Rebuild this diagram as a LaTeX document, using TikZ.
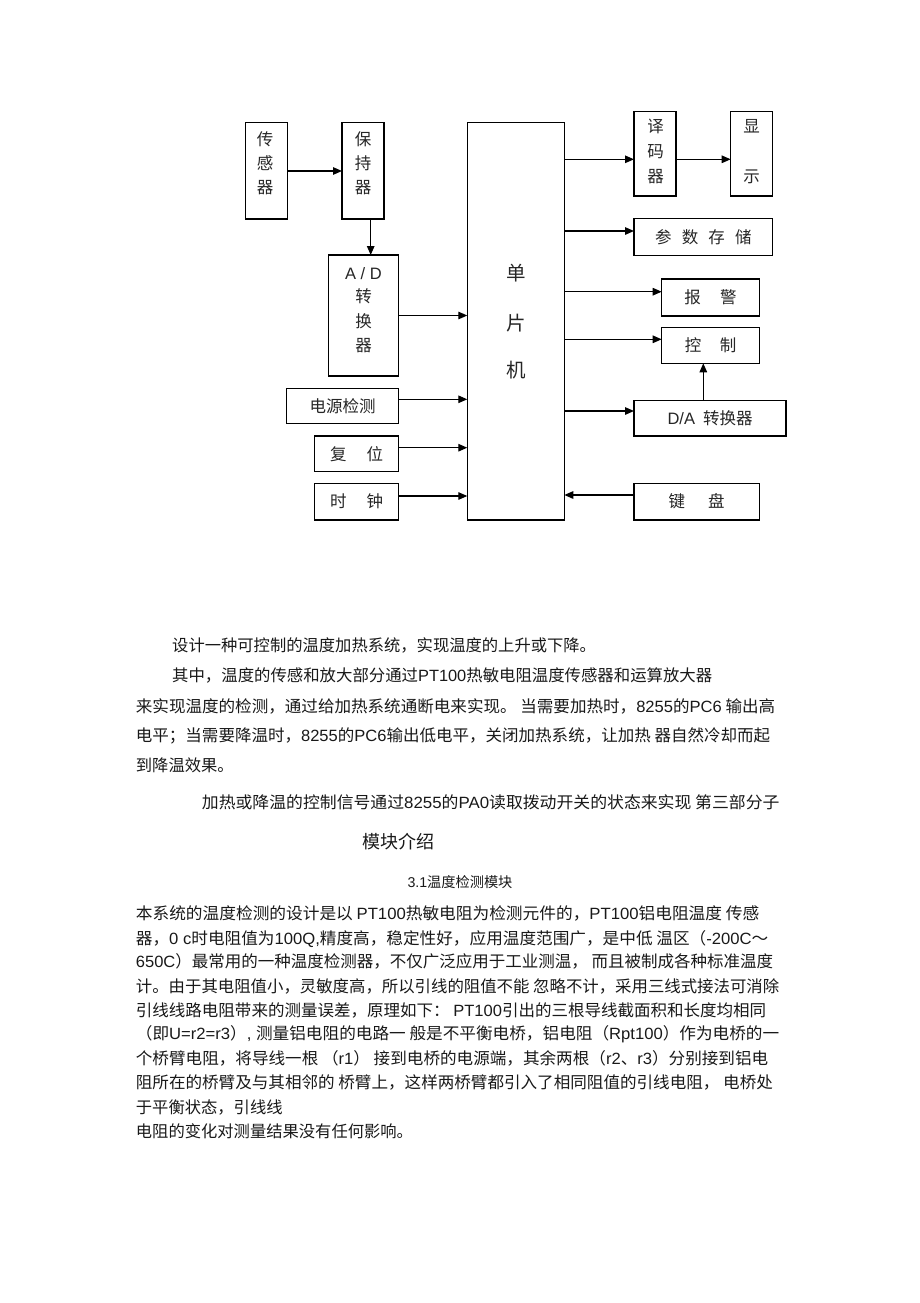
\documentclass[tikz,border=0pt]{standalone}
\usepackage{graphicx}
\usepackage{fontspec}
\setmainfont{Noto Sans CJK SC}
\newfontfamily\latf{Liberation Sans}
\newcommand\ltn[1]{{\latf #1}}
\usetikzlibrary{arrows.meta,calc}
\tikzset{
  box/.style={draw=black, line width=1.2pt, inner sep=0pt, outer sep=0pt,
    text=black!85, font=\fontsize{16.5}{20}\selectfont},
  vtxt/.style={anchor=base, inner sep=0pt, text=black!85, font=\fontsize{16.5}{20}\selectfont},
  arr/.style={-{Triangle[length=9pt,width=7.5pt]}, line width=1.3pt},
  para/.style={anchor=base west, inner sep=0pt, text=black!90, font=\fontsize{16.3}{20}\selectfont}
}
\newcommand\jline[5]{\node[para] (#1) at (#2,#3+6) {\resizebox{#4pt}{\height}{#5}};}
\newcommand\nline[4]{\node[para] (#1) at (#2,#3+6) {#4};}
\begin{document}
\begin{tikzpicture}[x=1pt,y=-1pt]
\fill[white] (0,0) rectangle (920,1303);
\useasboundingbox (0,0) rectangle (920,1303);

% ---------- boxes ----------
\node[box, minimum width=41.6pt, minimum height=96.3pt] (sens) at (266.5,170.85) {};
\node[box, minimum width=42pt, minimum height=96.3pt] (hold) at (363,170.85) {};
\node[box, minimum width=69.6pt, minimum height=121pt] (ad) at (363.5,315.5) {};
\node[box, minimum width=97pt, minimum height=397.3pt] (mcu) at (515.8,321.35) {};
\node[box, minimum width=42pt, minimum height=84.3pt] (dec) at (655,153.85) {};
\node[box, minimum width=42pt, minimum height=84.3pt] (disp) at (751.7,153.85) {};
\node[box, minimum width=138.7pt, minimum height=37pt] (store) at (703.35,236.8)
  {参\hspace{10.2pt}数\hspace{10.2pt}存\hspace{10.2pt}储};
\node[box, minimum width=97.6pt, minimum height=37pt] (alarm) at (710.5,297.5)
  {报\hspace{19.5pt}警};
\node[box, minimum width=97.6pt, minimum height=36pt] (ctrl) at (710.5,345.3)
  {控\hspace{18.5pt}制};
\node[box, minimum width=152pt, minimum height=35.7pt] (da) at (710,418.15)
  {\ltn{D/A}\hspace{8pt}转换器};
\node[box, minimum width=125.3pt, minimum height=36.7pt] (kb) at (696.65,501.65)
  {键\hspace{23pt}盘};
\node[box, minimum width=112pt, minimum height=35pt] (pw) at (342.7,405.8)
  {电源检测};
\node[box, minimum width=84.4pt, minimum height=35.7pt] (rst) at (356.5,453.85)
  {复\hspace{20pt}位};
\node[box, minimum width=84.4pt, minimum height=36.7pt] (clk) at (356.5,501.65)
  {时\hspace{20pt}钟};

% ---------- vertical labels ----------
\node[vtxt] (s1) at (265,139.3+6) {传};
\node[vtxt] (s2) at (265,163.3+6) {感};
\node[vtxt] (s3) at (265,187.3+6) {器};
\node[vtxt] (h1) at (363,139.3+6) {保};
\node[vtxt] (h2) at (363,163.3+6) {持};
\node[vtxt] (h3) at (363,187.3+6) {器};
\node[vtxt] (a1) at (363.5,273.3+6) {\ltn{A / D}};
\node[vtxt] (a2) at (363.5,296.7+6) {转};
\node[vtxt] (a3) at (363.5,321.7+6) {换};
\node[vtxt] (a4) at (363.5,345+6) {器};
\node[vtxt, font=\fontsize{19.5}{22}\selectfont] (m1) at (516,273.3+7) {单};
\node[vtxt, font=\fontsize{19.5}{22}\selectfont] (m2) at (516,323.3+7) {片};
\node[vtxt, font=\fontsize{19.5}{22}\selectfont] (m3) at (516,370+7) {机};
\node[vtxt] (d1) at (655.5,126.7+6) {译};
\node[vtxt] (d2) at (655.5,151.7+6) {码};
\node[vtxt] (d3) at (655.5,176+6) {器};
\node[vtxt] (x1) at (751.7,126.7+6) {显};
\node[vtxt] (x2) at (751.7,176+6) {示};

% ---------- connectors ----------
\coordinate (ya) at (0,171);
\coordinate (xb) at (370.7,0);
\coordinate (yp) at (0,399.3);
\coordinate (yr) at (0,447.7);
\coordinate (yc) at (0,496);
\coordinate (yd) at (0,159.3);
\coordinate (ys) at (0,231);
\coordinate (yal) at (0,291.7);
\coordinate (yct) at (0,339.3);
\coordinate (yda) at (0,411);
\coordinate (xdc) at (703.3,0);
\coordinate (yk) at (0,495);

\draw[arr] (sens.east |- ya) -- (hold.west |- ya);
\draw[arr] (hold.south -| xb) -- (ad.north -| xb);
\draw[arr] (ad.east) -- (ad.east -| mcu.west);
\draw[arr] (pw.east |- yp) -- (mcu.west |- yp);
\draw[arr] (rst.east |- yr) -- (mcu.west |- yr);
\draw[arr] (clk.east |- yc) -- (mcu.west |- yc);
\draw[arr] (mcu.east |- yd) -- (dec.west |- yd);
\draw[arr] (dec.east |- yd) -- (disp.west |- yd);
\draw[arr] (mcu.east |- ys) -- (store.west |- ys);
\draw[arr] (mcu.east |- yal) -- (alarm.west |- yal);
\draw[arr] (mcu.east |- yct) -- (ctrl.west |- yct);
\draw[arr] (mcu.east |- yda) -- (da.west |- yda);
\draw[arr] (da.north -| xdc) -- (ctrl.south -| xdc);
\draw[arr] (kb.west |- yk) -- (mcu.east |- yk);

% ---------- text ----------
\nline{t1}{172}{645}{设计一种可控制的温度加热系统，实现温度的上升或下降。}
\jline{t2}{172}{675}{540}{其中，温度的传感和放大部分通过\ltn{PT100}热敏电阻温度传感器和运算放大器}
\jline{t3}{135.7}{706}{639.3}{来实现温度的检测，通过给加热系统通断电来实现。 当需要加热时，\ltn{8255}的\ltn{PC6} 输出高}
\jline{t4}{135.7}{735}{634.3}{电平；当需要降温时，\ltn{8255}的\ltn{PC6}输出低电平，关闭加热系统，让加热 器自然冷却而起}
\nline{t5}{135.7}{765}{到降温效果。}
\jline{t6}{201.7}{802}{577.6}{加热或降温的控制信号通过\ltn{8255}的\ltn{PA0}读取拨动开关的状态来实现 第三部分子}
\node[para, font=\fontsize{18}{20}\selectfont] (t7) at (362.3,841.7+6.8) {模块介绍};
\node[para, font=\fontsize{14.2}{18}\selectfont] (hd) at (407.3,881.7+5.4) {\ltn{3.1}温度检测模块};

\jline{p1}{135.7}{913.3}{623.3}{本系统的温度检测的设计是以 \ltn{PT100}热敏电阻为检测元件的，\ltn{PT100}铝电阻温度 传感}
\jline{p2}{135.7}{938.3}{632.3}{器，\ltn{0 c}时电阻值为\ltn{100Q,}精度高，稳定性好，应用温度范围广，是中低 温区（\ltn{-200C}～}
\jline{p3}{135.7}{961.7}{637.3}{\ltn{650C}）最常用的一种温度检测器，不仅广泛应用于工业测温， 而且被制成各种标准温度}
\jline{p4}{135.7}{986.7}{643.3}{计。由于其电阻值小，灵敏度高，所以引线的阻值不能 忽略不计，采用三线式接法可消除}
\jline{p5}{135.7}{1010}{630.3}{引线线路电阻带来的测量误差，原理如下： \ltn{PT100}引出的三根导线截面积和长度均相同}
\jline{p6}{135.7}{1033.5}{643.3}{（即\ltn{U=r2=r3}）\ltn{, }测量铝电阻的电路一 般是不平衡电桥，铝电阻（\ltn{Rpt100}）作为电桥的一}
\jline{p7}{135.7}{1058.3}{632.3}{个桥臂电阻，将导线一根 （\ltn{r1}） 接到电桥的电源端，其余两根（\ltn{r2}、\ltn{r3}）分别接到铝电}
\jline{p8}{135.7}{1082.7}{637}{阻所在的桥臂及与其相邻的 桥臂上，这样两桥臂都引入了相同阻值的引线电阻， 电桥处}
\nline{p9}{135.7}{1107}{于平衡状态，引线线}
\nline{p10}{135.7}{1131.7}{电阻的变化对测量结果没有任何影响。}
\end{tikzpicture}
\end{document}
